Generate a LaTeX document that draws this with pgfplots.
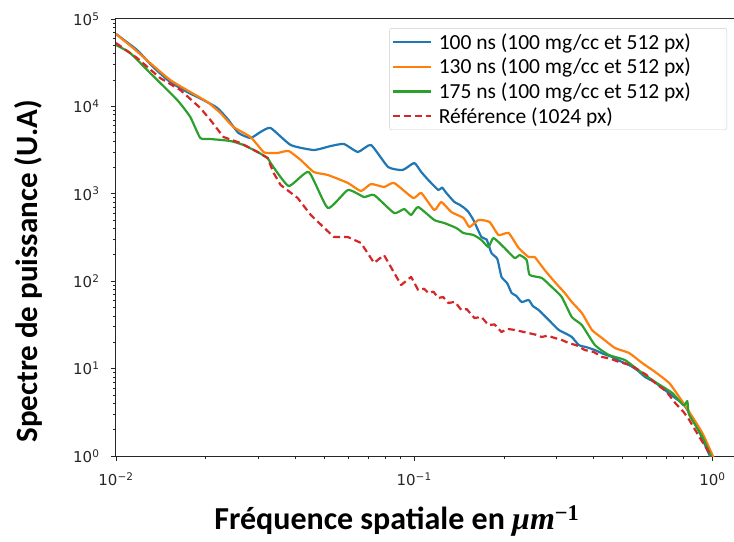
\documentclass[border=0pt]{standalone}
\usepackage{pgfplots}
\pgfplotsset{compat=1.18}
\usepackage{fontspec}
\setmainfont{Carlito}
\newfontfamily\dejavu{DejaVu Sans}
\newfontfamily\libserif{Liberation Serif}
\definecolor{tabblue}{HTML}{1F77B4}
\definecolor{taborange}{HTML}{FF7F0E}
\definecolor{tabgreen}{HTML}{2CA02C}
\definecolor{tabred}{HTML}{D62728}
\begin{document}
\begin{tikzpicture}
\path[use as bounding box] (-116bp,-86bp) rectangle (618bp,456bp);
\begin{axis}[
  at={(0,0)}, anchor=south west,
  scale only axis, width=620bp, height=437bp,
  xmode=log, ymode=log,
  xmin=0.01, xmax=1.2, ymin=1, ymax=1e5,
  axis line style={black!85, line width=1bp},
  tick align=outside, tick pos=left,
  major tick length=5bp, minor tick length=3bp,
  every tick/.style={black!85, line width=0.8bp},
  xtick={0.01,0.1,1},
  xticklabels={10\textsuperscript{−2},10\textsuperscript{−1},10\textsuperscript{0}},
  minor xtick={0.02,0.03,0.04,0.05,0.06,0.07,0.08,0.09,0.2,0.3,0.4,0.5,0.6,0.7,0.8,0.9},
  ytick={1,10,100,1000,10000,100000},
  yticklabels={10\textsuperscript{0},10\textsuperscript{1},10\textsuperscript{2},10\textsuperscript{3},10\textsuperscript{4},10\textsuperscript{5}},
  minor ytick={2,3,4,5,6,7,8,9,20,30,40,50,60,70,80,90,200,300,400,500,600,700,800,900,2000,3000,4000,5000,6000,7000,8000,9000,20000,30000,40000,50000,60000,70000,80000,90000},
  ticklabel style={font=\dejavu\fontsize{15bp}{17bp}\selectfont, text=black!85},
  xticklabel shift=8bp, yticklabel shift=8bp,
  xlabel={Fréquence spatiale en {\libserif\bfseries\itshape μm}\textsuperscript{\libserif\bfseries −1}},
  ylabel={Spectre de puissance (U.A)},
  xlabel style={at={(axis description cs:0.453,-0.169)}, anchor=base, font=\bfseries\fontsize{32bp}{36bp}\selectfont},
  ylabel style={at={(axis description cs:-0.141,0.423)}, anchor=center, font=\bfseries\fontsize{31bp}{36bp}\selectfont},
  legend style={at={(axis description cs:0.9855,0.979)}, anchor=north east,
    draw=black!20, rounded corners=2bp, fill=white,
    font=\fontsize{21.5bp}{24bp}\selectfont, inner xsep=2bp, inner ysep=3bp,
    nodes={inner xsep=2bp, inner ysep=2bp},
    row sep=3.5bp,
    /tikz/every odd column/.append style={column sep=5bp}},
  legend cell align=left,
  legend image code/.code={\draw[#1, line width=2.2bp] (0bp,0bp) -- (38bp,0bp);},
  every axis plot/.append style={line width=2.2bp, line join=round},
]
\addplot[tabblue, smooth, tension=0.3] coordinates {
(0.0100,67330)(0.01177,44180)(0.01332,28240)(0.01520,19020)(0.01734,14610)(0.01963,11830)
(0.02188,9590)(0.02383,6990)(0.02575,4963)(0.02826,4349)(0.03053,5095)(0.03300,5662)
(0.03854,3617)(0.04606,3171)(0.05255,3524)(0.05813,3714)(0.06479,3008)(0.07166,3617)
(0.08175,2026)(0.09150,1872)(0.1000,2251)(0.1056,1776)(0.1115,1439)(0.1205,1105)
(0.1240,1180)(0.1282,1021)(0.1364,806)(0.1410,760)(0.1473,688)(0.1520,620)(0.1580,501)
(0.1681,320)(0.1750,300)(0.1816,210)(0.1900,180)(0.1963,112)(0.2050,95)(0.2122,73.3)
(0.2200,68)(0.2293,57.8)(0.2420,60.9)(0.2500,52)(0.2615,46.8)(0.2700,42)(0.2826,36.0)
(0.2950,31)(0.3053,27.7)(0.3199,25.5)(0.3378,23.0)(0.3566,18.6)(0.3800,17.5)(0.4037,16.3)
(0.4300,14.8)(0.4606,13.6)(0.4900,12.2)(0.5255,11.0)(0.5600,9.6)(0.5950,8.01)(0.6400,7.0)
(0.6787,6.00)(0.7506,4.61)(0.8000,3.9)(0.8368,3.10)(0.9042,1.88)(0.9770,1.03)(1.0,0.95)
};
\addlegendentry{\makebox[284bp][l]{100 ns (100 mg/cc et 512 px)}}
\addplot[taborange, smooth, tension=0.3] coordinates {
(0.0100,67330)(0.01141,46590)(0.01302,31380)(0.01520,20050)(0.01775,14610)(0.02025,11230)
(0.02240,8405)(0.02477,5812)(0.02826,4466)(0.03125,3008)(0.03300,2930)(0.03484,2930)
(0.03794,3089)(0.04164,2436)(0.04606,1776)(0.05134,1641)(0.05996,1329)(0.06631,1076)
(0.07166,1295)(0.07925,1196)(0.08565,1329)(0.09922,895)(0.1056,1021)(0.1168,652)
(0.1233,806)(0.1332,619)(0.1462,529)(0.1532,417)(0.1642,501)(0.1789,476)(0.1918,338)
(0.2073,356)(0.2240,240)(0.2420,189)(0.2535,189)(0.2740,134)(0.2961,98)(0.3199,73.3)
(0.3378,57.8)(0.3650,43.3)(0.3945,27.7)(0.4263,22.4)(0.4714,17.2)(0.5255,15.1)
(0.5813,11.6)(0.6429,9.15)(0.7166,6.84)(0.7743,4.73)(0.8368,3.19)(0.9255,1.83)(1.0,1.03)(1.01,0.95)
};
\addlegendentry{130 ns (100 mg/cc et 512 px)}
\addplot[tabgreen, smooth, tension=0.3] coordinates {
(0.0100,50400)(0.01115,40830)(0.01302,24110)(0.01605,11830)(0.01775,7564)(0.01918,4349)
(0.02073,4236)(0.02420,4019)(0.02677,3617)(0.02984,3008)(0.03224,2568)(0.03300,2251)
(0.03794,1228)(0.04431,1776)(0.05134,688)(0.05996,1105)(0.06787,919)(0.07335,969)
(0.08565,603)(0.09255,670)(0.09770,572)(0.1031,706)(0.1168,501)(0.1262,463)(0.1385,406)
(0.1462,356)(0.1580,338)(0.1681,296)(0.1775,246)(0.1845,312)(0.2009,240)(0.2172,184)
(0.2258,199)(0.2383,175)(0.2439,118)(0.2677,109)(0.2893,85.8)(0.3125,65.9)(0.3378,38.9)
(0.3650,31.5)(0.4037,18.6)(0.4500,14.3)(0.5095,12.5)(0.5813,8.91)(0.6429,7.03)
(0.7335,5.26)(0.8000,3.8)(0.8238,4.25)(0.8300,3.3)(0.8368,2.94)(0.9255,1.65)(0.9846,1.03)(0.995,0.95)
};
\addlegendentry{175 ns (100 mg/cc et 512 px)}
\addplot[tabred, dash pattern=on 7bp off 4bp] coordinates {
(0.0100,53140)(0.01177,35790)(0.01406,21130)(0.01643,15400)(0.01918,9590)(0.02073,6990)
(0.02293,4466)(0.02615,3813)(0.02984,3008)(0.03224,2568)(0.03378,1730)(0.03566,1261)
(0.04068,895)(0.04500,572)(0.05379,320)(0.05996,320)(0.06631,274)(0.07335,162)
(0.07925,199)(0.09042,90.5)(0.09770,112)(0.1031,79.3)(0.1080,82)(0.1115,73.3)(0.1160,76)
(0.1205,64.2)(0.1250,66)(0.1302,56.3)(0.1370,58)(0.1439,46.8)(0.1500,48)(0.1592,37.9)
(0.1680,39)(0.1775,31.5)(0.1860,32)(0.1963,26.2)(0.2050,28.5)(0.2172,27.7)(0.2300,26.5)
(0.2420,25.5)(0.2550,24.5)(0.2677,23.0)(0.2800,23.8)(0.2961,22.4)(0.3100,21.5)(0.3300,19.6)
(0.3500,18.5)(0.3736,16.3)(0.4000,15.5)(0.4263,13.6)(0.4550,13.0)(0.4864,11.9)(0.5200,11.2)
(0.5505,10.2)(0.6000,8.5)(0.6429,6.84)(0.7000,5.5)(0.7506,4.04)(0.8000,3.2)(0.8368,2.58)
(0.9042,1.65)(0.9770,1.08)(0.99,0.95)
};
\addlegendentry{Référence (1024 px)}
\end{axis}
\end{tikzpicture}
\end{document}
